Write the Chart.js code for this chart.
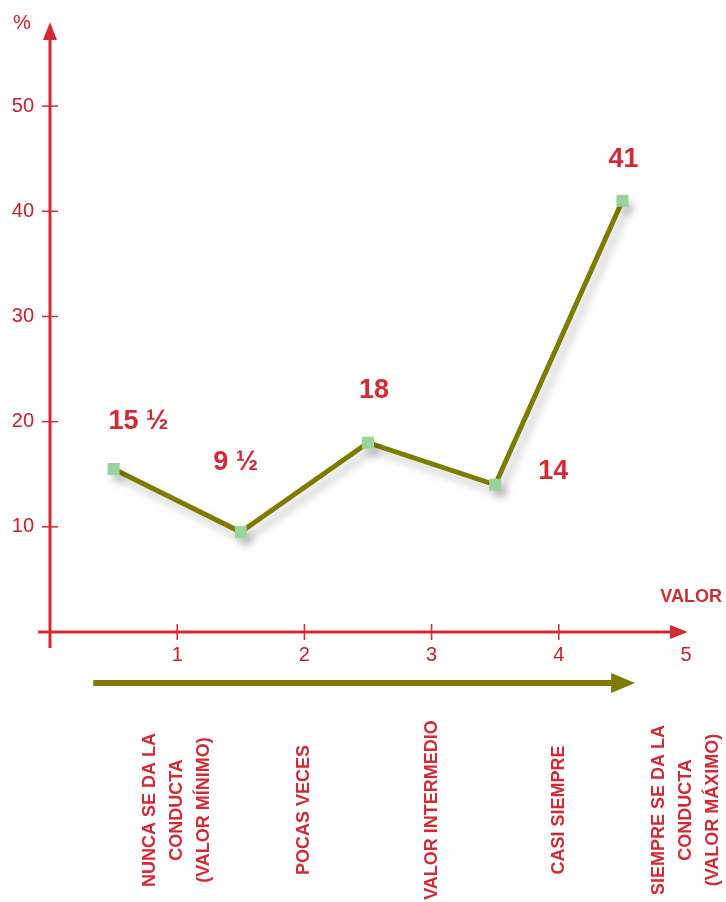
<!DOCTYPE html>
<html lang="es">
<head>
  <meta charset="UTF-8" />
  <title>Valor de la conducta</title>
  <script src="https://cdn.jsdelivr.net/npm/chart.js@4/dist/chart.umd.min.js"></script>
  <style>
    html, body { margin: 0; padding: 0; background: #fff; }
    #wrap { width: 726px; height: 902px; position: relative; }
  </style>
</head>
<body>
  <div id="wrap">
    <canvas id="chart"></canvas>
  </div>

  <script>
    // datos
    const categories = [
      ["NUNCA SE DA LA", "CONDUCTA", "(VALOR MÍNIMO)"],
      ["POCAS VECES"],
      ["VALOR INTERMEDIO"],
      ["CASI SIEMPRE"],
      ["SIEMPRE SE DA LA", "CONDUCTA", "(VALOR MÁXIMO)"]
    ];
    const xPositions = [0.5, 1.5, 2.5, 3.5, 4.5];
    const percentages = [15.5, 9.5, 18, 14, 41];
    const xTicks = [1, 2, 3, 4, 5];
    const yTicks = [10, 20, 30, 40, 50];

    const RED = "#d42a35";
    const TEXT_RED = "#c8202d";
    const OLIVE = "#7f7b00";
    const FONT = "'Liberation Sans', Arial, sans-serif";

    // desplazamiento de cada etiqueta respecto a su punto
    const labelOffsets = [[25, -47], [-5, -70], [6, -52], [58, -13], [1, -41]];

    function fmtValue(v) {
      const whole = Math.floor(v);
      return (v - whole) === 0.5 ? whole + " ½" : String(v);
    }

    // ejes con flechas, marcas y textos extra
    const axesPlugin = {
      id: "axes",
      beforeDatasetsDraw(chart) {
        const ctx = chart.ctx;
        const xs = chart.scales.x, ys = chart.scales.y;
        const x0 = xs.getPixelForValue(0);
        const y0 = ys.getPixelForValue(0);
        const top = chart.chartArea.top;
        const right = chart.chartArea.right + 2;

        ctx.save();
        ctx.strokeStyle = RED;
        ctx.fillStyle = RED;
        ctx.lineWidth = 3;

        // eje Y
        ctx.beginPath();
        ctx.moveTo(x0, y0 + 16);
        ctx.lineTo(x0, top + 14);
        ctx.stroke();
        ctx.beginPath();
        ctx.moveTo(x0, top);
        ctx.lineTo(x0 - 7, top + 18);
        ctx.lineTo(x0 + 7, top + 18);
        ctx.closePath();
        ctx.fill();

        // eje X
        ctx.beginPath();
        ctx.moveTo(x0 - 12, y0);
        ctx.lineTo(right - 14, y0);
        ctx.stroke();
        ctx.beginPath();
        ctx.moveTo(right, y0);
        ctx.lineTo(right - 18, y0 - 7);
        ctx.lineTo(right - 18, y0 + 7);
        ctx.closePath();
        ctx.fill();

        // marcas
        ctx.lineWidth = 1.5;
        yTicks.forEach(v => {
          const y = ys.getPixelForValue(v);
          ctx.beginPath();
          ctx.moveTo(x0 - 8, y);
          ctx.lineTo(x0 + 8, y);
          ctx.stroke();
        });
        xTicks.slice(0, -1).forEach(v => {
          const x = xs.getPixelForValue(v);
          ctx.beginPath();
          ctx.moveTo(x, y0 - 8);
          ctx.lineTo(x, y0 + 8);
          ctx.stroke();
        });

        // flecha oliva bajo el eje
        const ay = y0 + 51;
        const ax1 = xs.getPixelForValue(0.34);
        const ax2 = xs.getPixelForValue(4.6);
        ctx.strokeStyle = OLIVE;
        ctx.fillStyle = OLIVE;
        ctx.lineWidth = 6;
        ctx.beginPath();
        ctx.moveTo(ax1, ay);
        ctx.lineTo(ax2 - 20, ay);
        ctx.stroke();
        ctx.beginPath();
        ctx.moveTo(ax2, ay);
        ctx.lineTo(ax2 - 24, ay - 10);
        ctx.lineTo(ax2 - 24, ay + 10);
        ctx.closePath();
        ctx.fill();

        // textos
        ctx.fillStyle = TEXT_RED;
        ctx.font = "20px " + FONT;
        ctx.textAlign = "center";
        ctx.textBaseline = "middle";
        ctx.fillText("%", x0 - 28, top + 1);

        ctx.font = "bold 18px " + FONT;
        ctx.textAlign = "right";
        ctx.fillStyle = RED;
        ctx.fillText("VALOR", 722, y0 - 35);

        // categorías giradas
        ctx.textAlign = "center";
        categories.forEach((lines, i) => {
          const x = xs.getPixelForValue(xTicks[i]);
          ctx.save();
          ctx.translate(x, y0 + 178);
          ctx.rotate(-Math.PI / 2);
          lines.forEach((t, j) => {
            ctx.fillText(t, 0, (j - (lines.length - 1) / 2) * 27);
          });
          ctx.restore();
        });
        ctx.restore();
      },
      beforeDatasetDraw(chart) {
        const ctx = chart.ctx;
        ctx.save();
        ctx.shadowColor = "rgba(0,0,0,0.22)";
        ctx.shadowBlur = 8;
        ctx.shadowOffsetX = 5;
        ctx.shadowOffsetY = 7;
      },
      afterDatasetDraw(chart) {
        chart.ctx.restore();
      },
      afterDatasetsDraw(chart) {
        const ctx = chart.ctx;
        const meta = chart.getDatasetMeta(0);
        ctx.save();
        ctx.fillStyle = RED;
        ctx.font = "bold 27px " + FONT;
        ctx.textAlign = "center";
        ctx.textBaseline = "middle";
        meta.data.forEach((pt, i) => {
          const off = labelOffsets[i];
          ctx.fillText(fmtValue(percentages[i]), pt.x + off[0], pt.y + off[1]);
        });
        ctx.restore();
      }
    };

    const ctx = document.getElementById("chart").getContext("2d");
    new Chart(ctx, {
      type: "line",
      data: {
        datasets: [{
          data: xPositions.map((x, i) => ({ x, y: percentages[i] })),
          borderColor: OLIVE,
          borderWidth: 5,
          pointStyle: "rect",
          pointRadius: 8.5,
          pointBackgroundColor: "#99d29b",
          pointBorderWidth: 0,
          tension: 0,
          clip: false
        }]
      },
      options: {
        responsive: true,
        maintainAspectRatio: false,
        animation: false,
        layout: { padding: { top: 22, right: 40, left: 0, bottom: 0 } },
        plugins: { legend: { display: false }, tooltip: { enabled: false } },
        scales: {
          x: {
            type: "linear",
            min: 0,
            max: 5,
            afterBuildTicks: s => { s.ticks = xTicks.map(v => ({ value: v })); },
            afterFit: s => { s.height = 270; s.paddingLeft = 0; s.paddingRight = 0; },
            grid: { display: false, drawTicks: false },
            border: { display: false },
            ticks: {
              autoSkip: false,
              maxRotation: 0,
              padding: 11,
              color: TEXT_RED,
              font: { family: FONT, size: 20 }
            }
          },
          y: {
            min: 0,
            max: 58,
            afterBuildTicks: s => { s.ticks = yTicks.map(v => ({ value: v })); },
            afterFit: s => { s.width = 50; s.paddingTop = 0; s.paddingBottom = 0; },
            grid: { display: false, drawTicks: false },
            border: { display: false },
            ticks: {
              padding: 16,
              color: TEXT_RED,
              font: { family: FONT, size: 20 }
            }
          }
        }
      },
      plugins: [axesPlugin]
    });
  </script>
</body>
</html>
